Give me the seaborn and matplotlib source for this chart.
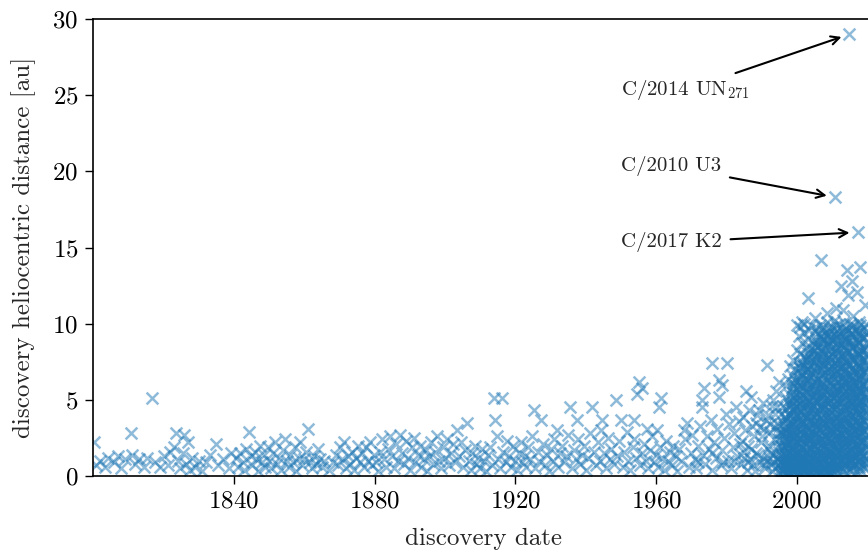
import matplotlib
matplotlib.use("Agg")
import matplotlib.pyplot as plt
import seaborn as sns
import pandas as pd

# ---------------- data ----------------
# comets discovered 1800-1840: (discovery year, heliocentric distance in au)
early_pts = [(1800.3, 2.2), (1800.8, 0.7), (1802.0, 1.0), (1803.5, 0.6), (1804.4, 1.2),
             (1806.0, 0.9), (1807.2, 1.3), (1808.0, 0.5), (1809.1, 1.1), (1810.7, 2.8),
             (1811.0, 1.4), (1811.8, 0.8), (1813.0, 1.1), (1814.5, 0.6), (1815.2, 1.2),
             (1816.7, 5.1), (1817.5, 0.9), (1819.0, 0.6), (1820.3, 1.3), (1821.2, 0.7),
             (1822.0, 1.6), (1823.0, 1.9), (1823.5, 2.8), (1824.1, 1.0), (1824.8, 0.5),
             (1825.5, 1.5), (1825.8, 2.7), (1826.4, 0.8), (1826.9, 2.2), (1827.5, 0.4),
             (1828.2, 1.2), (1829.0, 0.6), (1830.1, 1.0), (1831.0, 0.3), (1832.0, 0.9),
             (1833.2, 1.4), (1834.9, 2.1), (1835.5, 0.7), (1837.0, 1.1), (1838.5, 0.5),
             (1839.2, 1.5)]

pts_1840_1880 = [(1840.5, 1.2), (1841.2, 0.6), (1841.8, 1.5), (1842.5, 0.9), (1843.0, 0.4),
                 (1843.6, 1.8), (1844.3, 2.9), (1844.8, 1.3), (1845.3, 0.7), (1845.9, 1.6),
                 (1846.4, 1.1), (1846.9, 0.3), (1847.4, 2.0), (1847.9, 0.9), (1848.5, 1.4),
                 (1849.0, 0.6), (1849.6, 1.9), (1850.1, 1.0), (1850.7, 0.5), (1851.2, 1.5),
                 (1851.8, 2.2), (1852.3, 0.8), (1852.9, 1.2), (1853.4, 0.4), (1854.0, 1.7),
                 (1854.5, 2.4), (1855.0, 1.0), (1855.6, 0.6), (1856.1, 1.4), (1856.7, 0.9),
                 (1857.3, 1.9), (1857.8, 0.3), (1858.4, 1.2), (1858.9, 2.2), (1859.5, 0.7),
                 (1860.0, 1.1), (1860.6, 1.6), (1861.2, 3.1), (1861.6, 0.9), (1862.2, 0.5),
                 (1862.8, 1.3), (1863.3, 0.8), (1863.9, 1.8), (1864.4, 1.1), (1865.0, 0.6),
                 (1865.6, 1.0), (1867.0, 0.4), (1868.3, 0.9), (1869.0, 1.4), (1869.6, 0.7),
                 (1870.2, 1.9), (1870.8, 1.1), (1871.3, 2.2), (1871.9, 0.5), (1872.5, 1.3),
                 (1873.0, 0.8), (1873.6, 1.6), (1874.2, 0.4), (1874.8, 1.2), (1875.3, 2.0),
                 (1875.9, 0.9), (1876.4, 1.5), (1877.0, 0.6), (1877.6, 1.9), (1878.1, 1.0),
                 (1878.7, 2.2), (1879.3, 0.7), (1879.8, 1.4)]

pts_1880_1920 = [(1880.4, 0.9), (1881.0, 0.3), (1881.6, 1.6), (1882.2, 2.4), (1882.8, 1.1),
                 (1883.3, 0.6), (1883.9, 1.8), (1884.5, 2.6), (1885.0, 1.3), (1885.6, 0.5),
                 (1886.1, 2.1), (1886.7, 1.0), (1887.2, 2.7), (1887.8, 1.5), (1888.3, 0.8),
                 (1888.9, 2.3), (1889.4, 1.2), (1890.0, 0.4), (1890.5, 1.9), (1891.1, 2.5),
                 (1891.6, 0.9), (1892.2, 1.4), (1892.8, 2.0), (1893.3, 0.6), (1893.9, 1.1),
                 (1894.5, 1.7), (1895.0, 0.3), (1895.6, 1.3), (1896.1, 2.2), (1896.7, 0.8),
                 (1897.3, 1.6), (1897.8, 2.6), (1898.4, 1.0), (1898.9, 0.5), (1899.5, 1.9),
                 (1900.0, 1.2), (1900.6, 2.4), (1901.1, 0.7), (1901.7, 1.5), (1902.3, 2.1),
                 (1902.8, 0.9), (1903.4, 3.0), (1903.9, 1.3), (1904.5, 2.2), (1905.0, 0.6),
                 (1905.6, 1.7), (1906.2, 3.5), (1906.7, 1.0), (1907.3, 0.4), (1907.8, 1.5),
                 (1908.4, 2.0), (1908.9, 0.8), (1909.5, 1.2), (1910.0, 0.5), (1910.6, 1.8),
                 (1911.2, 1.0), (1911.7, 0.3), (1912.3, 1.4), (1912.8, 1.9), (1913.4, 0.7),
                 (1913.9, 5.1), (1914.3, 3.7), (1914.7, 2.6), (1915.0, 1.1), (1915.6, 0.5),
                 (1916.1, 5.1), (1916.6, 1.6), (1917.2, 0.9), (1917.7, 2.3), (1918.3, 1.3),
                 (1918.8, 0.6), (1919.4, 2.0), (1919.9, 1.0)]

pts_1920_1960 = [(1920.4, 0.4), (1920.9, 1.5), (1921.5, 2.2), (1922.0, 0.9), (1922.6, 1.3),
                 (1923.1, 0.6), (1923.7, 1.9), (1924.2, 1.1), (1924.8, 2.6), (1925.2, 4.3),
                 (1925.7, 0.5), (1926.3, 1.6), (1926.8, 1.0), (1927.2, 3.7), (1927.8, 2.1),
                 (1928.4, 0.7), (1928.9, 1.4), (1929.5, 0.3), (1930.0, 1.8), (1930.6, 1.0),
                 (1931.1, 2.4), (1931.8, 3.0), (1932.2, 0.6), (1932.8, 1.5), (1933.3, 2.0),
                 (1933.9, 0.9), (1934.4, 1.3), (1935.0, 2.7), (1935.5, 4.5), (1936.1, 0.5),
                 (1936.6, 1.7), (1937.2, 1.1), (1937.5, 3.7), (1937.9, 2.4), (1938.4, 0.8),
                 (1939.0, 1.4), (1939.6, 2.0), (1940.1, 0.4), (1940.7, 1.2), (1941.2, 2.8),
                 (1941.7, 4.5), (1942.3, 1.6), (1942.8, 0.7), (1943.4, 2.2), (1944.0, 1.0),
                 (1944.3, 3.0), (1944.6, 3.7), (1945.1, 1.5), (1945.7, 0.5), (1946.2, 2.5),
                 (1946.8, 1.1), (1947.3, 1.8), (1947.9, 0.8), (1948.5, 5.0), (1948.9, 1.3),
                 (1949.5, 2.3), (1949.9, 3.7), (1950.5, 0.6), (1951.0, 1.6), (1951.6, 2.9),
                 (1952.1, 1.0), (1952.7, 0.4), (1953.3, 1.9), (1953.6, 3.7), (1953.8, 2.4),
                 (1954.4, 1.2), (1954.5, 5.4), (1955.0, 6.2), (1955.5, 0.7), (1955.9, 5.8),
                 (1956.1, 1.5), (1956.6, 2.1), (1957.2, 1.0), (1957.3, 3.1), (1957.8, 0.5),
                 (1958.3, 1.7), (1958.9, 2.6), (1959.4, 0.9), (1959.9, 1.4)]

pts_1960_1995 = [(1960.1, 3.0), (1960.5, 0.6), (1960.7, 4.5), (1961.0, 1.9), (1961.3, 5.1),
                 (1961.6, 1.2), (1962.2, 0.4), (1962.7, 2.3), (1963.3, 1.0), (1963.8, 1.6),
                 (1964.4, 0.7), (1964.9, 2.0), (1965.5, 1.3), (1966.0, 0.3), (1966.6, 1.8),
                 (1967.1, 1.0), (1967.8, 3.0), (1968.2, 2.4), (1968.7, 3.5), (1969.3, 0.6),
                 (1969.8, 1.5), (1970.3, 2.7), (1970.9, 1.1), (1971.4, 0.5), (1971.9, 2.0),
                 (1972.0, 0.9), (1972.5, 3.3), (1973.0, 5.0), (1973.1, 4.5), (1973.5, 5.8),
                 (1973.3, 1.4), (1973.9, 0.8), (1974.4, 2.6), (1974.9, 1.8), (1975.5, 3.7),
                 (1975.8, 7.4), (1975.9, 0.4), (1976.0, 1.5), (1976.4, 2.2), (1976.9, 1.2),
                 (1977.4, 3.1), (1977.8, 6.3), (1977.9, 5.2), (1978.3, 0.7), (1978.7, 6.0),
                 (1978.8, 1.7), (1979.0, 0.9), (1979.3, 2.5), (1979.8, 4.1), (1980.0, 7.4),
                 (1980.3, 1.0), (1980.8, 3.4), (1981.2, 0.5), (1981.7, 1.9), (1982.0, 1.0),
                 (1982.2, 2.8), (1982.6, 4.5), (1983.1, 1.3), (1983.5, 3.6), (1983.7, 2.1),
                 (1984.0, 0.8), (1984.4, 2.3), (1984.9, 1.6), (1985.0, 1.2), (1985.3, 3.0),
                 (1985.5, 5.6), (1985.8, 0.4), (1986.0, 0.9), (1986.2, 2.0), (1986.6, 1.1),
                 (1986.9, 5.2), (1987.0, 1.8), (1987.1, 3.3), (1987.5, 0.7), (1987.9, 2.6),
                 (1988.0, 0.3), (1988.3, 1.5), (1988.7, 4.0), (1989.0, 1.4), (1989.1, 4.3),
                 (1989.5, 0.9), (1989.9, 2.2), (1990.0, 2.6), (1990.3, 1.2), (1990.6, 3.1),
                 (1990.8, 0.7), (1991.0, 0.5), (1991.1, 3.7), (1991.4, 7.3), (1991.6, 1.0),
                 (1991.8, 1.8), (1992.0, 2.0), (1992.2, 2.9), (1992.5, 0.8), (1992.7, 1.5),
                 (1992.9, 4.6), (1993.0, 0.3), (1993.3, 1.4), (1993.6, 2.4), (1993.8, 3.2),
                 (1994.0, 0.6), (1994.0, 5.6), (1994.2, 1.1), (1994.4, 3.5), (1994.5, 2.8),
                 (1994.7, 1.9), (1994.8, 6.2)]

pts_1984_1995_extra = [(1984.6, 3.9), (1986.5, 4.3), (1988.5, 3.5), (1989.6, 3.2),
                       (1990.4, 4.8), (1991.9, 4.0), (1992.4, 3.4), (1993.1, 5.0),
                       (1993.9, 4.1), (1994.3, 4.5), (1993.5, 0.9), (1992.1, 1.2)]

# survey era: discovery year columns and the distances found in each column
modern_years = [1995.0, 1995.5, 1996.0, 1996.5, 1997.0, 1997.5, 1998.0, 1998.5,
                1999.0, 1999.5, 2000.0, 2000.5, 2001.0, 2001.5, 2002.0, 2002.5,
                2003.0, 2003.5, 2004.0, 2004.5, 2005.0, 2005.5, 2006.0, 2006.5,
                2007.0, 2007.5, 2008.0, 2008.5, 2009.0, 2009.5, 2010.0, 2010.5,
                2011.0, 2011.5, 2012.0, 2012.5, 2013.0, 2013.5, 2014.0, 2014.5,
                2015.0, 2015.5, 2016.0, 2016.5, 2017.0, 2017.5, 2018.0, 2018.5,
                2019.0, 2019.5, 2020.0]
modern_dists = [
    [0.2, 0.7, 1.1, 1.6, 2.4, 3.3],
    [0.1, 0.5, 0.9, 1.4, 2.0, 2.9, 4.1],
    [0.3, 0.8, 1.2, 1.7, 2.3, 2.8, 3.5, 4.6],
    [0.2, 0.6, 1.0, 1.5, 1.9, 2.6, 3.1, 3.9, 5.2],
    [0.1, 0.5, 0.9, 1.3, 2.0, 2.5, 3.2, 3.8, 4.4, 5.9],
    [0.3, 0.7, 1.2, 1.8, 2.2, 2.9, 3.5, 4.1, 4.9, 6.4],
    [0.2, 0.6, 1.0, 1.5, 2.1, 2.7, 3.3, 4.0, 4.6, 5.3, 7.2],
    [0.1, 0.4, 0.9, 1.4, 1.9, 2.4, 3.0, 3.7, 4.3, 5.0, 5.8, 6.6],
    [0.3, 0.8, 1.3, 1.7, 2.3, 2.8, 3.4, 4.2, 4.8, 5.5, 6.1, 7.6],
    [0.2, 0.6, 1.1, 1.6, 2.0, 2.6, 3.2, 3.9, 4.5, 5.2, 6.3, 7.0],
    [0.1, 0.5, 0.9, 1.4, 2.2, 2.7, 3.6, 4.1, 4.9, 5.7, 6.5, 8.3, 9.9],
    [0.3, 0.7, 1.2, 1.8, 2.4, 3.0, 3.8, 4.4, 5.1, 6.0, 6.8, 7.4, 9.2],
    [0.2, 0.6, 1.0, 1.5, 2.1, 2.9, 3.4, 4.2, 4.7, 5.4, 6.2, 7.1, 8.0, 9.8],
    [0.1, 0.4, 0.9, 1.3, 1.9, 2.5, 3.1, 3.7, 4.5, 5.3, 5.9, 6.7, 7.5, 8.7],
    [0.3, 0.8, 1.2, 1.7, 2.3, 2.8, 3.5, 4.0, 4.8, 5.6, 6.4, 7.2, 7.9, 9.4, 10.0],
    [0.2, 0.5, 1.1, 1.6, 2.0, 2.6, 3.3, 3.9, 4.6, 5.1, 6.1, 6.9, 7.7, 8.5],
    [0.1, 0.7, 1.0, 1.4, 2.2, 2.7, 3.2, 4.3, 4.9, 5.8, 6.3, 7.0, 8.1, 9.0],
    [0.4, 0.9, 1.3, 1.9, 2.5, 3.0, 3.6, 4.1, 5.0, 5.5, 6.6, 7.3, 7.8, 9.6],
    [0.2, 0.6, 1.2, 1.8, 2.4, 2.9, 3.7, 4.4, 4.7, 5.3, 6.0, 6.8, 7.6, 8.4, 9.9],
    [0.1, 0.5, 0.8, 1.5, 2.1, 2.6, 3.4, 3.9, 4.6, 5.7, 6.2, 7.1, 8.2, 8.8],
    [0.3, 0.7, 1.1, 1.7, 2.3, 3.1, 3.5, 4.2, 5.0, 5.6, 6.5, 7.4, 7.9, 8.6, 9.5],
    [0.2, 0.6, 1.0, 1.4, 2.0, 2.8, 3.3, 4.0, 4.8, 5.4, 6.1, 6.9, 7.7, 8.9, 9.7],
    [0.1, 0.4, 0.9, 1.6, 2.2, 2.7, 3.6, 4.3, 4.9, 5.2, 6.4, 7.2, 8.0, 8.5, 9.3],
    [0.3, 0.8, 1.3, 1.8, 2.5, 3.0, 3.8, 4.5, 5.1, 5.9, 6.6, 7.5, 8.3, 9.1, 9.9],
    [0.2, 0.5, 1.2, 1.5, 2.1, 2.9, 3.4, 4.1, 4.7, 5.5, 6.2, 7.0, 7.8, 8.7, 9.6],
    [0.4, 0.9, 1.1, 1.9, 2.4, 3.2, 3.7, 4.4, 5.3, 5.8, 6.7, 7.3, 8.1, 9.0, 9.8],
    [0.1, 0.6, 1.0, 1.7, 2.3, 2.6, 3.5, 4.0, 4.6, 5.6, 6.0, 6.8, 7.6, 8.4, 9.4],
    [0.3, 0.7, 1.4, 2.0, 2.7, 3.1, 3.9, 4.8, 5.2, 6.3, 6.9, 7.7, 8.6, 9.2, 10.1],
    [0.2, 0.8, 1.2, 1.6, 2.2, 3.0, 3.6, 4.3, 5.0, 5.7, 6.5, 7.1, 7.9, 8.8, 9.7],
    [0.1, 0.5, 1.3, 1.8, 2.5, 2.8, 3.4, 4.2, 4.9, 5.4, 6.1, 7.4, 8.2, 9.0, 9.5],
    [0.4, 0.9, 1.1, 1.5, 2.1, 2.9, 3.7, 4.5, 5.1, 5.9, 6.6, 7.2, 8.0, 8.9, 9.8],
    [0.2, 0.6, 1.0, 1.9, 2.4, 3.3, 3.8, 4.1, 4.7, 5.5, 6.4, 7.0, 7.8, 8.5, 9.3, 10.2],
    [0.3, 0.7, 1.4, 1.7, 2.3, 3.1, 3.5, 4.4, 5.3, 5.8, 6.2, 6.9, 7.5, 8.3, 9.1, 9.9],
    [0.5, 1.2, 1.6, 2.0, 2.7, 3.2, 3.9, 4.6, 5.0, 5.6, 6.7, 7.3, 8.1, 8.7, 9.6],
    [0.2, 0.8, 1.1, 1.8, 2.6, 2.9, 3.6, 4.0, 4.8, 5.7, 6.3, 7.1, 7.7, 8.4, 9.4, 10.0],
    [0.6, 1.0, 1.5, 2.2, 2.8, 3.4, 4.2, 4.9, 5.2, 6.0, 6.8, 7.6, 8.6, 9.2, 9.8],
    [0.3, 0.9, 1.3, 1.9, 2.4, 3.0, 3.7, 4.5, 5.4, 5.9, 6.5, 7.2, 8.0, 8.9, 9.5],
    [0.7, 1.1, 1.7, 2.1, 2.7, 3.3, 3.8, 4.3, 5.1, 5.5, 6.2, 6.9, 7.8, 8.5, 9.3, 10.1],
    [0.2, 0.8, 1.4, 2.0, 2.5, 3.1, 3.5, 4.1, 4.7, 5.6, 6.4, 7.0, 7.5, 8.3, 9.0, 9.7],
    [0.5, 1.0, 1.6, 2.3, 2.9, 3.6, 4.4, 5.0, 5.8, 6.1, 6.7, 7.4, 8.2, 8.8, 9.6],
    [0.3, 0.9, 1.2, 1.8, 2.6, 3.2, 3.9, 4.6, 5.3, 6.0, 6.6, 7.3, 7.9, 8.7, 9.4, 10.0],
    [0.6, 1.1, 1.5, 2.2, 2.8, 3.4, 4.0, 4.8, 5.2, 5.7, 6.3, 7.1, 7.7, 8.4, 9.1, 9.8],
    [0.4, 0.7, 1.3, 1.9, 2.4, 3.0, 3.7, 4.3, 4.9, 5.5, 6.5, 6.9, 7.6, 8.5, 9.3, 9.9],
    [0.8, 1.2, 1.7, 2.1, 2.7, 3.3, 3.9, 4.5, 5.1, 5.9, 6.2, 7.0, 7.8, 8.6, 9.5],
    [0.3, 1.0, 1.4, 2.0, 2.5, 3.1, 3.6, 4.2, 4.7, 5.4, 6.1, 6.8, 7.4, 8.1, 8.9, 9.7],
    [0.6, 0.9, 1.6, 2.3, 2.9, 3.5, 4.1, 4.6, 5.3, 5.8, 6.4, 7.2, 8.0, 8.7, 9.4, 10.1],
    [0.4, 1.1, 1.5, 1.8, 2.6, 3.2, 3.8, 4.4, 5.0, 5.6, 6.6, 7.1, 7.9, 8.3, 9.2, 9.9],
    [0.7, 1.3, 1.9, 2.2, 2.8, 3.4, 4.0, 4.9, 5.5, 6.0, 6.7, 7.5, 8.2, 9.0, 9.6],
    [0.5, 1.0, 1.7, 2.4, 3.0, 3.6, 4.3, 4.7, 5.2, 6.2, 6.9, 7.7, 8.4, 9.1, 9.8],
    [0.8, 1.2, 2.0, 2.5, 3.1, 3.9, 4.5, 5.1, 5.7, 6.3, 7.0, 7.6, 8.5, 9.3, 10.0],
    [0.6, 1.4, 2.1, 2.7, 3.3, 4.1, 4.8, 5.4, 6.1, 6.8, 7.3, 8.0, 8.8, 9.5],
]

# survey era, second pass: columns in between, covering the densest core
core_years = [1995.75, 1996.75, 1997.75, 1998.75, 1999.75, 2000.75, 2001.75,
              2002.75, 2003.75, 2004.75, 2005.75, 2006.75, 2007.75, 2008.75,
              2009.75, 2010.75, 2011.75, 2012.75, 2013.75, 2014.75, 2015.75,
              2016.75, 2017.75, 2018.75, 2019.75]
core_dists = [
    [0.4, 1.0, 1.9, 2.7],
    [0.3, 0.8, 1.4, 2.1, 2.9, 3.7],
    [0.2, 0.9, 1.6, 2.5, 3.2, 4.0, 4.7],
    [0.4, 1.1, 1.8, 2.6, 3.5, 4.4, 5.2, 5.9],
    [0.3, 0.7, 1.5, 2.3, 3.0, 3.8, 4.6, 5.4, 6.2],
    [0.2, 0.9, 1.7, 2.5, 3.3, 4.0, 4.8, 5.6, 6.4, 7.1],
    [0.4, 1.1, 1.9, 2.7, 3.5, 4.3, 5.0, 5.8, 6.6, 7.3],
    [0.3, 0.8, 1.6, 2.4, 3.1, 3.9, 4.7, 5.5, 6.3, 7.0, 7.7],
    [0.2, 1.0, 1.8, 2.6, 3.4, 4.2, 4.9, 5.7, 6.5, 7.2, 8.0],
    [0.5, 1.3, 2.0, 2.8, 3.6, 4.4, 5.3, 6.0, 6.8, 7.5, 8.3],
    [0.3, 1.1, 1.8, 2.5, 3.3, 4.1, 4.9, 5.6, 6.3, 7.1, 7.9, 8.7],
    [0.2, 0.9, 1.6, 2.4, 3.2, 3.9, 4.6, 5.4, 6.2, 7.0, 7.7, 8.5, 9.2],
    [0.4, 1.2, 2.0, 2.7, 3.5, 4.3, 5.0, 5.8, 6.5, 7.3, 8.1, 8.9],
    [0.3, 1.0, 1.7, 2.5, 3.3, 4.0, 4.8, 5.5, 6.3, 7.0, 7.8, 8.6, 9.3],
    [0.2, 0.8, 1.5, 2.3, 3.0, 3.8, 4.6, 5.3, 6.1, 6.9, 7.6, 8.4, 9.1],
    [0.5, 1.3, 2.1, 2.9, 3.6, 4.4, 5.2, 5.9, 6.7, 7.4, 8.2, 9.0],
    [0.9, 1.6, 2.4, 3.1, 3.9, 4.7, 5.4, 6.2, 6.9, 7.7, 8.5, 9.2],
    [1.1, 1.9, 2.6, 3.4, 4.2, 4.9, 5.7, 6.4, 7.2, 8.0, 8.8],
    [0.9, 1.5, 2.3, 3.0, 3.8, 4.6, 5.3, 6.1, 6.8, 7.6, 8.4, 9.1],
    [1.2, 2.0, 2.7, 3.5, 4.3, 5.0, 5.8, 6.5, 7.3, 8.1, 8.9],
    [0.9, 1.7, 2.5, 3.2, 4.0, 4.7, 5.5, 6.2, 7.0, 7.8, 8.6, 9.4],
    [1.3, 2.1, 2.9, 3.6, 4.4, 5.1, 5.9, 6.7, 7.4, 8.2, 9.0],
    [1.0, 1.8, 2.6, 3.3, 4.1, 4.9, 5.6, 6.4, 7.1, 7.9, 8.7],
    [1.4, 2.2, 3.0, 3.7, 4.5, 5.3, 6.0, 6.8, 7.6, 8.3, 9.1],
    [1.1, 1.9, 2.7, 3.4, 4.2, 5.0, 5.7, 6.5, 7.3, 8.0],
]

# distant discoveries of the survey era (year, au)
distant_pts = [(2001.5, 10.1), (2003.0, 11.7), (2005.0, 10.4), (2006.8, 14.2),
               (2008.5, 10.7), (2010.8, 18.3), (2011.2, 11.0), (2012.4, 12.5),
               (2013.0, 10.9), (2014.1, 13.5), (2014.5, 11.9), (2014.9, 29.0),
               (2015.5, 12.8), (2016.0, 10.5), (2017.0, 12.1), (2017.3, 16.0),
               (2017.8, 13.7), (2019.3, 11.2)]

# labelled comets: name, discovery year, distance
label_names = ["C/2014 UN$_{271}$", "C/2010 U3", "C/2017 K2"]
label_years = [2014.9, 2010.8, 2017.3]
label_dists = [29.0, 18.3, 16.0]
label_text_y = [25.0, 20.0, 15.0]

# ---------------- assemble table ----------------
rows = []
for group in (early_pts, pts_1840_1880, pts_1880_1920, pts_1920_1960,
              pts_1960_1995, pts_1984_1995_extra):
    rows.extend(group)
for yr, dl in zip(modern_years, modern_dists):
    rows.extend((yr, d) for d in dl)
for yr, dl in zip(core_years, core_dists):
    rows.extend((yr, d) for d in dl)
rows.extend(distant_pts)
df = pd.DataFrame(rows, columns=["year", "dist"])

# ---------------- style ----------------
sns.set_style("ticks")
plt.rcParams["font.family"] = ["cmr10", "DejaVu Serif"]
plt.rcParams["mathtext.fontset"] = "cm"
plt.rcParams["axes.formatter.use_mathtext"] = True
plt.rcParams["axes.unicode_minus"] = False

fig = plt.figure(figsize=(8.68, 5.5), dpi=100)
W, H = 868.0, 550.0
ax = fig.add_axes([93 / W, (H - 476) / H, 781.4 / W, 457 / H])

sns.scatterplot(data=df, x="year", y="dist", marker="x", color="#1f77b4",
                alpha=0.5, s=72, linewidth=1.8, ax=ax, legend=False)

ax.set_xlim(1800, 2022)
ax.set_ylim(0, 30)
ax.set_xticks([1840, 1880, 1920, 1960, 2000])
ax.set_yticks([0, 5, 10, 15, 20, 25, 30])
ax.tick_params(axis="both", labelsize=18, length=5.5, width=1.0, pad=5,
               direction="out", color="black", labelcolor="black")
for sp in ax.spines.values():
    sp.set_linewidth(1.2)
    sp.set_color("black")
ax.spines["right"].set_visible(False)

ax.set_xlabel("discovery date", fontsize=18, labelpad=11)
ax.set_ylabel("discovery heliocentric distance [au]", fontsize=18, labelpad=12)

for name, yr, d, ty in zip(label_names, label_years, label_dists, label_text_y):
    ax.annotate(name, xy=(yr, d), xytext=(1950, ty), fontsize=15,
                ha="left", va="baseline",
                arrowprops=dict(arrowstyle="->", color="black", lw=1.5,
                                shrinkA=4, shrinkB=6))

fig.savefig("out.png", dpi=100)
